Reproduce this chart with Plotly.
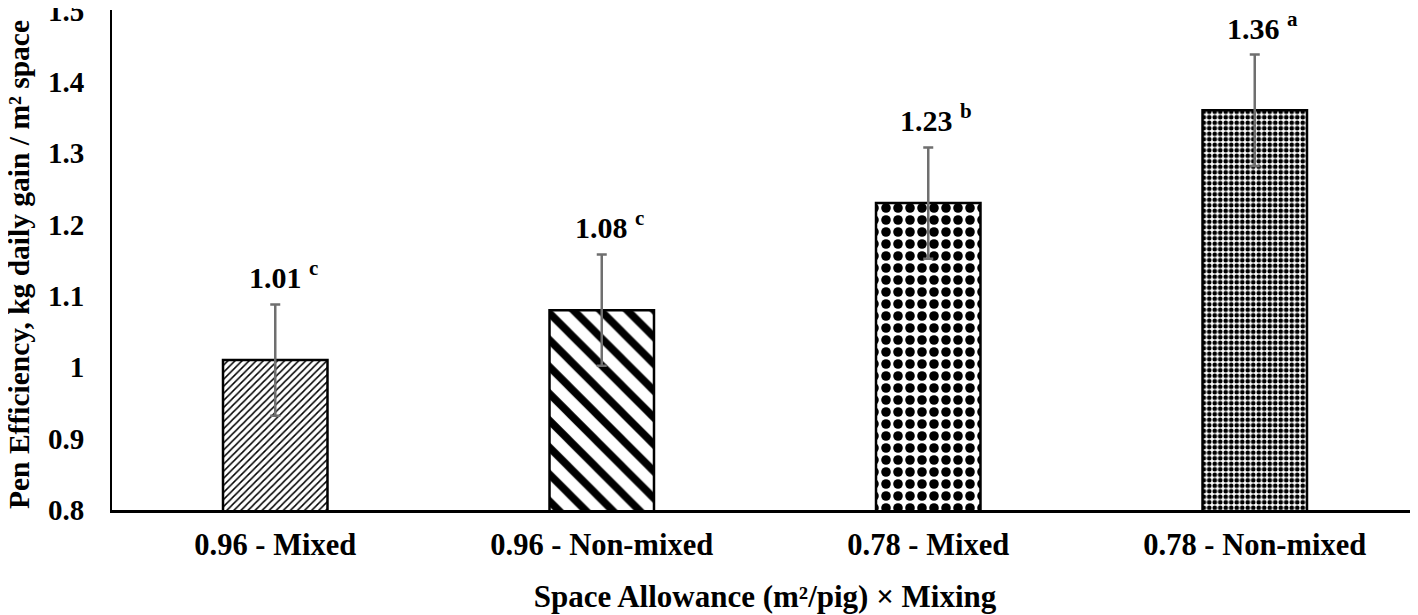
import plotly.graph_objects as go

categories = ["0.96 - Mixed", "0.96 - Non-mixed", "0.78 - Mixed", "0.78 - Non-mixed"]
values = [1.01, 1.08, 1.23, 1.36]
errors = [0.078, 0.078, 0.078, 0.078]
letters = ["c", "c", "b", "a"]
y_ticks = [0.8, 0.9, 1.0, 1.1, 1.2, 1.3, 1.4, 1.5]
y_ticktext = ["0.8", "0.9", "1", "1.1", "1.2", "1.3", "1.4", "1.5"]
shapes = ["/", "\\", ".", "."]
sizes = [5, 19, 12, 5.5]
solidity = [0.3, 0.4, 0.5, 0.55]

FONT = "Liberation Serif, Times New Roman, serif"

fig = go.Figure()
fig.add_trace(go.Bar(
    x=categories,
    y=values,
    width=0.32,
    marker=dict(
        color="white",
        line=dict(color="black", width=2.5),
        pattern=dict(shape=shapes, size=sizes, solidity=solidity,
                     fgcolor="black", bgcolor="white", fgopacity=1,
                     fillmode="replace"),
    ),
    error_y=dict(type="data", array=errors, visible=True,
                 color="#6f6f6f", thickness=2.5, width=5),
))

for c, v, e, l in zip(categories, values, errors, letters):
    fig.add_annotation(
        x=c, y=v + e, yanchor="bottom", yshift=8, xshift=8,
        text="<b>%.2f <sup>%s</sup></b>" % (v, l),
        showarrow=False, font=dict(family=FONT, size=30, color="black"),
    )

# y title as a rotated annotation so it can sit closer to the page edge
fig.add_annotation(
    xref="paper", yref="paper", x=0, y=0.5, xanchor="center", yanchor="middle",
    xshift=-93, yshift=-5, textangle=-90, showarrow=False,
    text="<b>Pen Efficiency, kg daily gain / m² space</b>",
    font=dict(family=FONT, size=29.5, color="black"),
)

# the page body adds an 8px offset, so margins are trimmed to match
fig.update_layout(
    width=1418, height=615,
    margin=dict(l=104, r=8, t=2, b=113),
    plot_bgcolor="white", paper_bgcolor="white",
    showlegend=False,
    font=dict(family=FONT, color="black"),
)
fig.update_xaxes(
    automargin=False,
    showline=True, linecolor="black", linewidth=3,
    showgrid=False, ticks="",
    ticklabelstandoff=5,
    tickfont=dict(family=FONT, size=30.5, weight="bold"),
    title=dict(text="Space Allowance (m²/pig) × Mixing",
               font=dict(family=FONT, size=31, weight="bold"), standoff=25),
)
fig.update_yaxes(
    automargin=False,
    range=[0.8, 1.5005], tickvals=y_ticks, ticktext=y_ticktext,
    ticklabeloverflow="allow",
    showline=True, linecolor="black", linewidth=2,
    showgrid=False, zeroline=False, ticks="",
    ticklabelstandoff=20,
    tickfont=dict(family=FONT, size=29, weight="bold"),
)

fig.write_html("out.html")
